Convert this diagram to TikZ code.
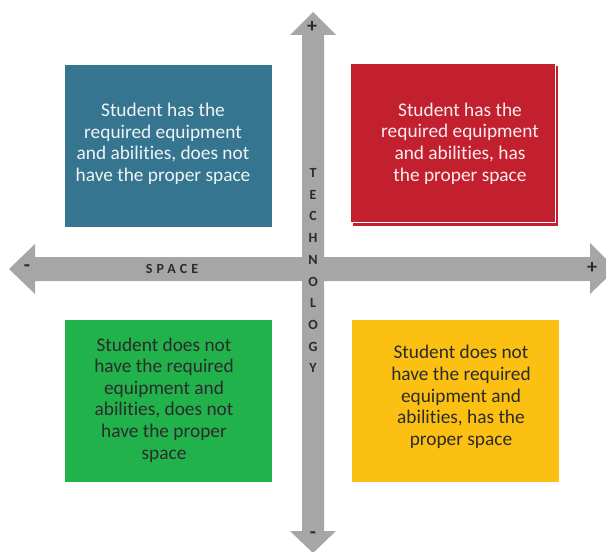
\documentclass[tikz,border=0pt]{standalone}
\usepackage{fontspec}
\setmainfont[Ligatures=NoCommon]{Carlito}
\usetikzlibrary{positioning}

\definecolor{quadblue}{HTML}{35758F}
\definecolor{quadred}{HTML}{C21F2F}
\definecolor{quadgreen}{HTML}{22B24C}
\definecolor{quadyellow}{HTML}{FCC012}
\definecolor{axisgray}{HTML}{A6A6A6}
\definecolor{axisdark}{HTML}{2B2B2B}

\begin{document}
\begin{tikzpicture}[x=0.75pt, y=-0.75pt,
    quad/.style={rectangle, minimum width=155.25pt, minimum height=121.5pt, inner sep=0pt},
    quadtext/.style={align=center, inner sep=0pt, font=\fontsize{14.5}{16.2}\selectfont},
    axislabel/.style={inner sep=0pt, text=axisdark, font=\fontsize{10.5}{10.5}\selectfont\bfseries},
    signlabel/.style={inner sep=0pt, text=axisdark, font=\fontsize{15}{15}\selectfont\bfseries}]
    \clip (0,0) rectangle (606,552);

    % Axes
    \fill[axisgray] (313,553) -- (290,531) -- (302,531) -- (302,35) -- (290,35) -- (313,12)
        -- (336,35) -- (324,35) -- (324,531) -- (336,531) -- cycle;
    \fill[axisgray] (9,269) -- (35,244) -- (35,257) -- (590,257) -- (590,243) -- (616,269)
        -- (590,294) -- (590,281) -- (35,281) -- (35,294) -- cycle;

    % Axis ends
    \node[signlabel] (techplus) at (312,27) {+};
    \node[signlabel] (techminus) at (313,535) {-};
    \node[signlabel] (spaceminus) at (27,268) {-};
    \node[signlabel] (spaceplus) at (592,268) {+};

    % Axis names
    \node[axislabel] (spacename) at (172,269) {\addfontfeature{LetterSpace=30}SPACE};
    \foreach \ch [count=\i from 0] in {T,E,C,H,N,O,L,O,G,Y}
        \node[axislabel] (tech\i) at (313,173+21.7*\i) {\ch};

    % Quadrants
    \node[quad, fill=quadblue] (nospace) at (168.5,146) {};
    \node[quadtext, text=white!92!quadblue] (nospacetext) at (163,144)
        {Student has the\\required equipment\\and abilities, does not\\have the proper space};

    \fill[quadred] (353,66) rectangle (558,226);
    \node[quad, fill=quadred, draw=white, line width=0.6pt,
        minimum width=153.75pt, minimum height=119.25pt] (both) at (452.5,142.5) {};
    \node[quadtext, text=white!92!quadred] (bothtext) at (460,143.5)
        {Student has the\\required equipment\\and abilities, has\\the proper space};

    \node[quad, fill=quadgreen] (neither) at (168.5,401) {};
    \node[quadtext, text=axisdark] (neithertext) at (164,400)
        {Student does not\\have the required\\equipment and\\abilities, does not\\have the proper\\space};

    \node[quad, fill=quadyellow] (onlyspace) at (455.5,401) {};
    \node[quadtext, text=axisdark] (onlyspacetext) at (461,397)
        {Student does not\\have the required\\equipment and\\abilities, has the\\proper space};
\end{tikzpicture}
\end{document}
